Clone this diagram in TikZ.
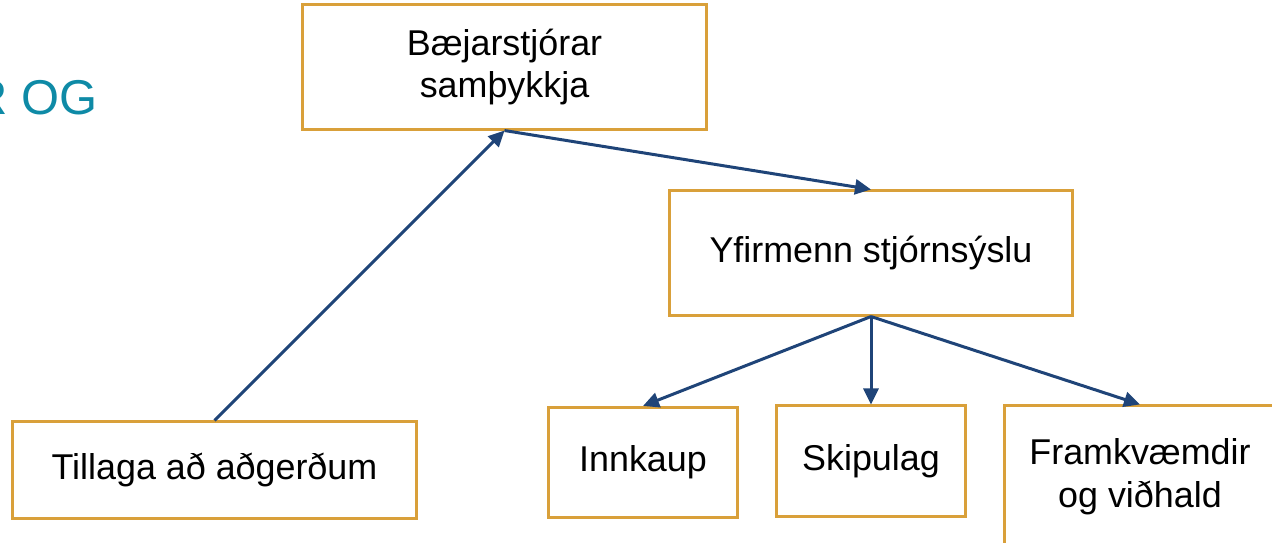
\documentclass[tikz,border=0pt]{standalone}
\usepackage{fontspec}
\setmainfont{Liberation Sans}
\usetikzlibrary{arrows.meta}
\definecolor{boxgold}{HTML}{D9A03A}
\definecolor{linkblue}{HTML}{1F4478}
\definecolor{headteal}{HTML}{0E8AA6}

\begin{document}
\begin{tikzpicture}[
    x=0.01cm, y=-0.01cm,
    >={Triangle[length=0.16cm,width=0.15cm]},
    box/.style={rectangle,draw=boxgold,line width=0.03cm,align=center,inner sep=0pt,font=\fontsize{10.2}{12.2}\selectfont},
    wide/.style={box,minimum width=4.03cm,minimum height=1.24cm},
    task/.style={box,minimum width=1.88cm,minimum height=1.1cm},
    link/.style={draw=linkblue,line width=0.03cm}]
    \useasboundingbox (0,0) rectangle (1272,543);
    \clip (0,0) rectangle (1272,543);
    \node[anchor=base east,inner sep=0pt,text=headteal,font=\fontsize{13.9}{16}\selectfont] (heading) at (98,115) {R OG};
    \node[wide] (baej) at (504.5,67) {Bæjarstjórar\\samþykkja};
    \node[wide] (yfir) at (871,253) {Yfirmenn stjórnsýslu};
    \node[wide, minimum height=0.96cm] (tillaga) at (214.5,470) {Tillaga að aðgerðum};
    \node[task] (innkaup) at (643,462.5) {Innkaup};
    \node[task] (skipulag) at (871,461) {Skipulag};
    \node[task, minimum width=2.7cm, minimum height=1.42cm] (framkv) at (1140,477) {Framkvæmdir\\og viðhald};
    \path[->] (tillaga.north) edge[link] (baej.south);
    \path[->] (baej.south) edge[link] (yfir.north);
    \path[->] (yfir.south) edge[link] (innkaup.north);
    \path[->] (yfir.south) edge[link] (skipulag.north);
    \path[->] (yfir.south) edge[link] (framkv.north);
\end{tikzpicture}
\end{document}
